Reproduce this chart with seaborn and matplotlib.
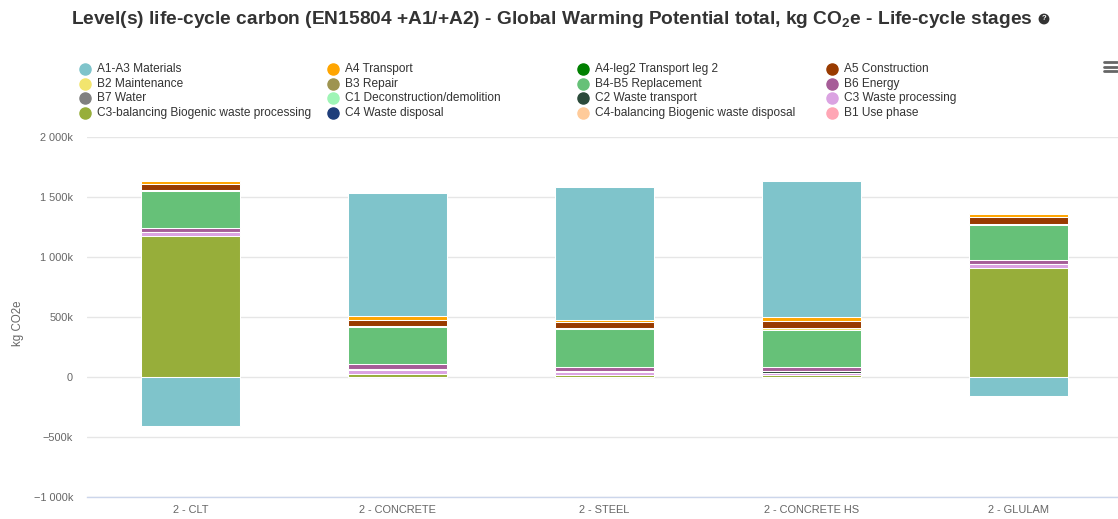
import matplotlib
matplotlib.use("Agg")
import matplotlib.pyplot as plt
from matplotlib.lines import Line2D
from matplotlib.ticker import FixedLocator, FuncFormatter
import numpy as np
import pandas as pd
import seaborn as sns

# Buildings compared
categories = ["2 - CLT", "2 - CONCRETE", "2 - STEEL", "2 - CONCRETE HS", "2 - GLULAM"]

# Life-cycle stages (legend order) and their colours
stages = [
    "A1-A3 Materials", "A4 Transport", "A4-leg2 Transport leg 2", "A5 Construction",
    "B2 Maintenance", "B3 Repair", "B4-B5 Replacement", "B6 Energy",
    "B7 Water", "C1 Deconstruction/demolition", "C2 Waste transport", "C3 Waste processing",
    "C3-balancing Biogenic waste processing", "C4 Waste disposal",
    "C4-balancing Biogenic waste disposal", "B1 Use phase",
]
stage_colors = [
    "#7fc4cb", "#ffa500", "#008000", "#993b00",
    "#f2e56e", "#9e9450", "#66c178", "#a65d98",
    "#808080", "#9ff5b6", "#2b4a3a", "#dba3e2",
    "#97ae3a", "#1f3e7a", "#ffcb9a", "#ffa6b5",
]

# GWP per stage, thousands of kg CO2e (CLT, CONCRETE, STEEL, CONCRETE HS, GLULAM)
a1_a3 = [-410, 1025, 1108, 1136, -158]
a4 = [20, 30, 20, 33, 25]
a4_leg2 = [0, 0, 0, 0, 0]
a5 = [55, 50, 45, 58, 54]
b2 = [6, 10, 10, 10, 12]
b3 = [0, 0, 0, 0, 0]
b4_b5 = [310, 310, 320, 310, 288]
b6 = [32, 35, 30, 35, 40]
b7 = [0, 0, 5, 0, 0]
c1 = [0, 0, 0, 0, 0]
c2 = [0, 15, 0, 20, 0]
c3 = [30, 30, 25, 12, 33]
c3_bal = [1178, 25, 20, 18, 906]
c4 = [0, 0, 0, 0, 0]
c4_bal = [0, 0, 0, 0, 0]
b1 = [0, 0, 0, 0, 0]

series = [a1_a3, a4, a4_leg2, a5, b2, b3, b4_b5, b6, b7, c1, c2, c3, c3_bal, c4, c4_bal, b1]

y_ticks = [-1000, -500, 0, 500, 1000, 1500, 2000]

sns.set_style("white")
plt.rcParams["font.family"] = ["Liberation Sans", "DejaVu Sans"]
plt.rcParams["mathtext.fontset"] = "custom"
plt.rcParams["mathtext.rm"] = "Liberation Sans:bold"
plt.rcParams["mathtext.bf"] = "Liberation Sans:bold"

W, H = 1118, 519
fig = plt.figure(figsize=(W / 100, H / 100), dpi=100)
ax = fig.add_axes([87 / W, 22 / H, 1035 / W, 360 / H])

BAR_W = 0.48
EDGE = 0.75

# Stacking from the bottom up: last series sits at the bottom, first on top.
values = np.array(series, dtype=float)
pos = np.clip(values, 0, None)
neg = np.clip(values, None, 0)
order_bottom_up = list(range(len(stages)))[::-1]
cum = np.zeros(len(categories))
tops = {}
for i in order_bottom_up:
    cum = cum + pos[i]
    tops[i] = cum.copy()

# Paint cumulative columns from the top series down so each segment shows its own slice
for i in order_bottom_up[::-1]:
    if pos[i].sum() == 0:
        continue
    df = pd.DataFrame({"category": categories, "value": tops[i]})
    sns.barplot(data=df, x="category", y="value", order=categories, color=stage_colors[i],
                saturation=1, width=BAR_W, errorbar=None, edgecolor="white",
                linewidth=EDGE, ax=ax, zorder=3)

# Negative contributions stack downward from zero
ncum = np.zeros(len(categories))
ntops = {}
for i in order_bottom_up:
    ncum = ncum + neg[i]
    ntops[i] = ncum.copy()
for i in order_bottom_up[::-1]:
    if neg[i].sum() == 0:
        continue
    df = pd.DataFrame({"category": categories, "value": ntops[i]})
    sns.barplot(data=df, x="category", y="value", order=categories, color=stage_colors[i],
                saturation=1, width=BAR_W, errorbar=None, edgecolor="white",
                linewidth=EDGE, ax=ax, zorder=3)

ax.set_xlim(-0.5, len(categories) - 0.5)
ax.set_ylim(-1000, 2000)
ax.yaxis.set_major_locator(FixedLocator(y_ticks))


def fmt(v, _):
    if v == 0:
        return "0"
    s = f"{abs(int(v)):,}".replace(",", " ") + "k"
    return ("\u2212" if v < 0 else "") + s


ax.yaxis.set_major_formatter(FuncFormatter(fmt))
ax.grid(axis="y", color="#e6e6e6", linewidth=1, zorder=0)
ax.grid(axis="x", visible=False)
for name in ["top", "left", "right"]:
    ax.spines[name].set_visible(False)
ax.spines["bottom"].set_color("#ccd6eb")
ax.spines["bottom"].set_linewidth(1)
ax.tick_params(axis="y", length=0, pad=10, labelsize=7.9, labelcolor="#666666")
ax.tick_params(axis="x", length=0, pad=6, labelsize=7.9, labelcolor="#666666")
ax.set_xlabel("")
ax.set_ylabel("kg CO2e", fontsize=8.3, color="#666666")
ax.yaxis.set_label_coords((24 - 87) / 1035, (497 - 323) / 360)

# Title with help badge
fig.text(71 / W, 1 - 19 / H,
         r"Level(s) life-cycle carbon (EN15804 +A1/+A2) - Global Warming Potential total, kg CO$_\mathbf{2}$e - Life-cycle stages",
         ha="left", va="center", fontsize=13.75, fontweight="bold", color="#333333")
fig.text(1044 / W, 1 - 19 / H, "?", ha="center", va="center", fontsize=5.5,
         fontweight="bold", color="white",
         bbox=dict(boxstyle="circle,pad=0.25", fc="#333333", ec="none"))

# Legend laid out in four columns
col_x = [85, 333, 583, 832]
row_y = [69, 84, 98, 113]
for k, (label, c) in enumerate(zip(stages, stage_colors)):
    r, col = divmod(k, 4)
    x, y = col_x[col], row_y[r]
    fig.add_artist(Line2D([x / W], [1 - y / H], marker="o", markersize=8, color=c,
                          linestyle="none", transform=fig.transFigure))
    fig.text((x + 12) / W, 1 - y / H, label, ha="left", va="center",
             fontsize=8.6, color="#333333")

# Context menu icon
for yy in [62, 66.5, 71]:
    fig.add_artist(Line2D([1104 / W, 1117 / W], [1 - yy / H, 1 - yy / H],
                          color="#666666", linewidth=2, transform=fig.transFigure))

fig.savefig("out.png", dpi=100)
